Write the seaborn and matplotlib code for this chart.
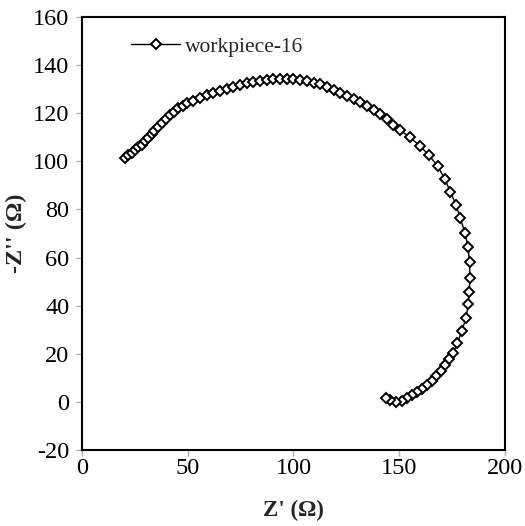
import matplotlib
matplotlib.use("Agg")
import matplotlib.pyplot as plt
import seaborn as sns
import pandas as pd

# Nyquist impedance data for workpiece-16
z_real = [20.3, 21.9, 23.5, 25.1, 26.6, 28.2, 29.8, 31.3, 32.9, 34.3, 35.8, 37.7,
          39.7, 41.6, 43.5, 45.5, 47.6, 49.7, 52.6, 55.8, 59.0, 62.1, 65.2, 68.4,
          71.5, 74.7, 77.9, 81.0, 84.2, 87.3, 90.4, 93.6, 96.8, 100.0, 103.2, 106.3,
          109.5, 112.6, 115.8, 119.0, 122.2, 125.3, 128.5, 131.6, 134.8, 137.9, 141.0,
          144.0, 147.0, 150.5, 155.0, 159.6, 164.0, 168.2, 171.6, 174.2, 176.8, 178.9,
          181.0, 182.5, 183.2, 183.4, 183.1, 182.6, 181.6, 179.6, 177.4, 175.5, 173.6,
          171.6, 169.6, 167.4, 165.3, 163.0, 160.6, 158.2, 155.9, 153.5, 151.2, 148.3,
          145.8, 143.5]
z_imag = [101.6, 102.5, 103.6, 104.7, 105.9, 107.0, 108.4, 109.8, 111.3, 112.8, 114.4, 116.0,
          117.8, 119.3, 120.6, 122.0, 123.2, 124.2, 125.3, 126.4, 127.4, 128.3, 129.3, 130.2,
          131.0, 131.8, 132.5, 133.1, 133.6, 134.0, 134.3, 134.4, 134.4, 134.3, 134.0, 133.5,
          132.8, 132.0, 131.0, 129.8, 128.6, 127.3, 125.9, 124.5, 123.0, 121.4, 119.6,
          117.5, 115.3, 113.0, 110.0, 106.6, 102.6, 98.0, 92.5, 87.3, 81.9, 76.3,
          70.4, 64.5, 58.0, 51.6, 45.8, 40.6, 35.0, 29.6, 24.3, 20.4, 17.7,
          15.3, 13.0, 10.8, 8.8, 7.0, 5.2, 4.0, 2.8, 1.5, 0.3, -0.2,
          0.6, 1.6]
series_name = "workpiece-16"

x_ticks = [0, 50, 100, 150, 200]
y_ticks = [-20, 0, 20, 40, 60, 80, 100, 120, 140, 160]

df = pd.DataFrame({"Zr": z_real, "Zi": z_imag, "sample": series_name})

sns.set_style("white")
plt.rcParams["font.family"] = ["Liberation Serif", "DejaVu Serif"]
plt.rcParams["axes.unicode_minus"] = False

fig = plt.figure(figsize=(5.25, 5.26), dpi=100)
ax = fig.add_axes([0.156, 0.1445, 0.806, 0.823])

sns.lineplot(data=df, x="Zr", y="Zi", hue="sample", palette=["black"], sort=False,
             estimator=None, marker="D", markersize=5.2, markerfacecolor="white",
             markeredgecolor="black", markeredgewidth=1.4, linewidth=1.0, ax=ax)

ax.set_xlim(0, 200)
ax.set_ylim(-20, 160)
ax.set_xticks(x_ticks)
ax.set_yticks(y_ticks)
ax.tick_params(axis="both", which="major", direction="out", length=4, width=1,
               color="#b0b0b0", labelsize=17.5, labelcolor="black")
ax.tick_params(axis="x", pad=2)
ax.tick_params(axis="y", pad=5)
ax.tick_params(axis="both", bottom=True, left=True)

for sp in ax.spines.values():
    sp.set_color("black")
    sp.set_linewidth(1.5)

ax.set_xlabel("Z' (Ω)", fontsize=16.5, fontweight="bold", labelpad=15)
ax.set_ylabel("-Z'' (Ω)", fontsize=17.5, fontweight="bold", labelpad=4)

leg = ax.legend(loc="upper left", bbox_to_anchor=(0.08, 0.99), frameon=False,
                fontsize=15.5, handlelength=2.3, handletextpad=0.2, borderaxespad=0.3)

fig.savefig("out.png", dpi=100)
